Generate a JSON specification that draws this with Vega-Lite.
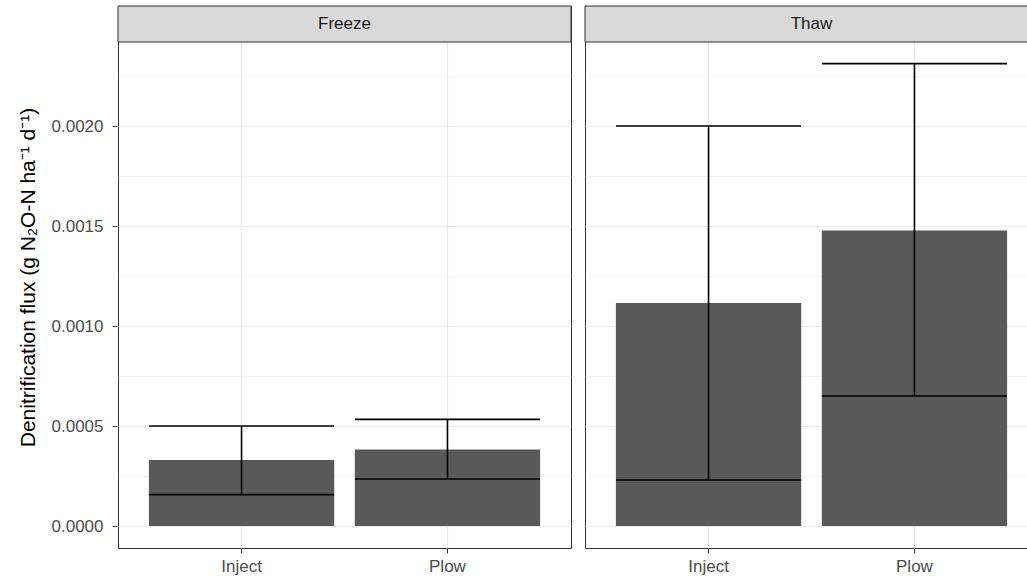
{
  "$schema": "https://vega.github.io/schema/vega-lite/v6.json",
  "padding": {"left": 17, "top": 5, "right": 0, "bottom": 5},
  "background": "white",
  "data": {
    "values": [
      {"period": "Freeze", "treatment": "Inject", "mean": 0.00033, "lower": 0.000157, "upper": 0.0005},
      {"period": "Freeze", "treatment": "Plow", "mean": 0.000382, "lower": 0.000235, "upper": 0.000533},
      {"period": "Thaw", "treatment": "Inject", "mean": 0.001115, "lower": 0.00023, "upper": 0.002},
      {"period": "Thaw", "treatment": "Plow", "mean": 0.001478, "lower": 0.00065, "upper": 0.002312}
    ]
  },
  "facet": {
    "column": {"field": "period", "type": "nominal", "sort": ["Freeze", "Thaw"], "header": null}
  },
  "spacing": 12,
  "resolve": {"scale": {"x": "independent"}},
  "spec": {
    "width": 453,
    "height": 542,
    "encoding": {
      "x": {
        "field": "treatment",
        "type": "nominal",
        "sort": ["Inject", "Plow"],
        "scale": {"paddingInner": 0.1, "paddingOuter": 0.15},
        "axis": {
          "title": null,
          "labelAngle": 0,
          "domain": false,
          "grid": true,
          "gridColor": "#EBEBEB",
          "gridWidth": 1.2,
          "bandPosition": 0.5,
          "tickColor": "#333333",
          "tickSize": 5,
          "tickWidth": 1,
          "labelPadding": 5,
          "labelFont": "Liberation Sans",
          "labelFontSize": 17,
          "labelColor": "#4D4D4D"
        }
      }
    },
    "layer": [
      {
        "mark": {"type": "bar", "color": "#595959"},
        "encoding": {
          "y": {
            "field": "mean",
            "type": "quantitative",
            "scale": {"domain": [-0.00011, 0.0026], "nice": false, "zero": false},
            "axis": {
              "title": "Denitrification flux (g N₂O-N ha⁻¹ d⁻¹)",
              "titleFont": "Liberation Sans",
              "titleFontSize": 21,
              "titleFontWeight": "normal",
              "titleColor": "#000000",
              "titlePadding": 13,
              "values": [0, 0.00025, 0.0005, 0.00075, 0.001, 0.00125, 0.0015, 0.00175, 0.002, 0.00225],
              "labelExpr": "round(datum.value*4000) % 2 == 0 ? format(datum.value, '.4f') : ''",
              "domain": false,
              "grid": true,
              "gridColor": "#EBEBEB",
              "gridWidth": {"condition": {"test": "round(datum.value*4000) % 2 == 0", "value": 1.2}, "value": 0.6},
              "tickOpacity": {"condition": {"test": "round(datum.value*4000) % 2 == 0", "value": 1}, "value": 0},
              "tickColor": "#333333",
              "tickSize": 5,
              "tickWidth": 1,
              "labelPadding": 9,
              "labelFont": "Liberation Sans",
              "labelFontSize": 17,
              "labelColor": "#4D4D4D"
            }
          }
        }
      },
      {
        "mark": {"type": "rule", "color": "#000000", "strokeWidth": 1.6},
        "encoding": {
          "y": {"field": "lower", "type": "quantitative"},
          "y2": {"field": "upper"}
        }
      },
      {
        "mark": {"type": "tick", "color": "#000000", "size": 185, "thickness": 1.6, "opacity": 1},
        "encoding": {"y": {"field": "lower", "type": "quantitative"}}
      },
      {
        "mark": {"type": "tick", "color": "#000000", "size": 185, "thickness": 1.6, "opacity": 1},
        "encoding": {"y": {"field": "upper", "type": "quantitative"}}
      },
      {
        "transform": [{"filter": "datum.treatment == 'Inject'"}],
        "mark": {"type": "rect", "fill": "#D9D9D9", "stroke": "#333333", "strokeWidth": 1},
        "encoding": {
          "x": {"value": 0},
          "x2": {"value": "width"},
          "y": {"datum": 0.00242},
          "y2": {"datum": 0.0026}
        }
      },
      {
        "transform": [{"filter": "datum.treatment == 'Inject'"}],
        "mark": {"type": "text", "font": "Liberation Sans", "fontSize": 17, "color": "#1A1A1A", "baseline": "middle", "align": "center"},
        "encoding": {
          "x": {"value": 226.5},
          "y": {"datum": 0.00251},
          "text": {"field": "period"}
        }
      }
    ]
  },
  "config": {
    "view": {"stroke": "#333333", "strokeWidth": 1}
  }
}
